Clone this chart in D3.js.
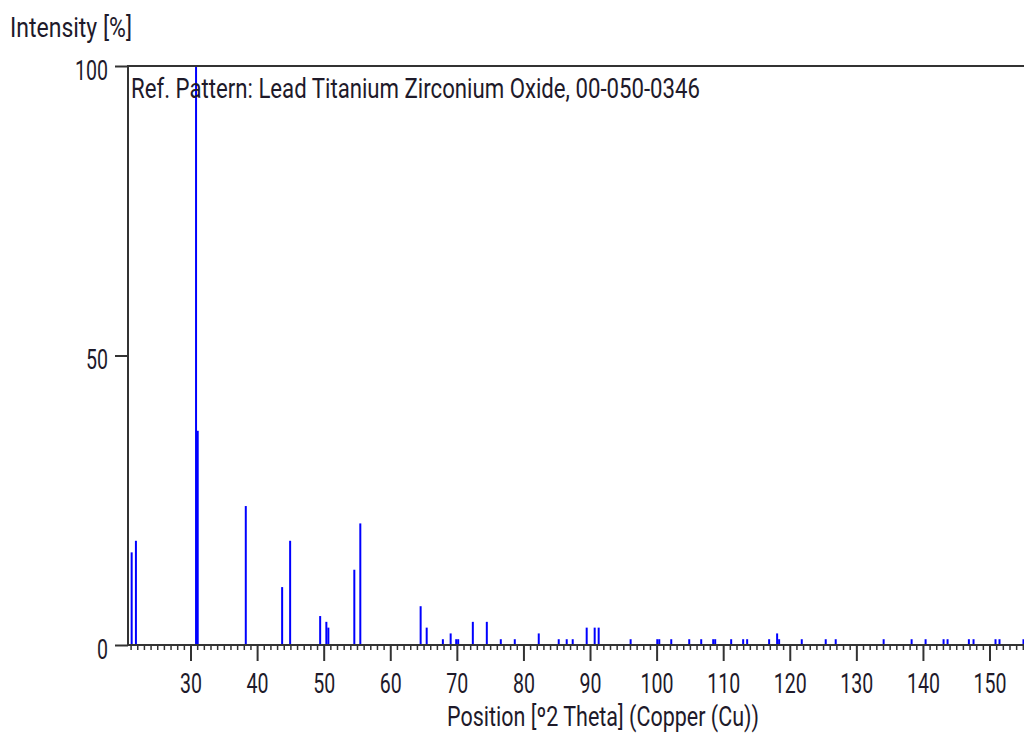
<!DOCTYPE html>
<html>
<head>
<meta charset="utf-8">
<script src="https://cdn.jsdelivr.net/npm/d3@7"></script>
<style>
  html, body { margin: 0; padding: 0; background: #fff; }
  svg { display: block; }
  text { font-family: Roboto, "Open Sans", sans-serif; fill: #1e1a2a; }
</style>
</head>
<body>
<svg id="chart" width="1024" height="733"></svg>
<script>
// Peak positions (°2θ) and relative intensities (%)
const positions = [21.16, 21.8, 30.83, 31.08, 38.3, 43.76, 44.96, 49.47, 50.4, 50.7, 54.6, 55.5,
  64.56, 65.47, 67.9, 69.07, 69.9, 70.2, 72.4, 74.5, 76.6, 78.7, 82.3, 85.3, 86.5, 87.4,
  89.5, 90.7, 91.3, 96.1, 100.1, 100.4, 102.2, 104.9, 106.7, 108.5, 108.8, 111.2, 113.0,
  113.6, 116.9, 118.1, 118.4, 121.8, 125.4, 126.9, 134.1, 138.3, 140.4, 143.1, 143.7,
  146.9, 147.6, 150.9, 151.5, 155.1];
const intensities = [16, 18, 100, 37, 24, 10, 18, 5, 4, 3, 13, 21,
  6.7, 3, 1, 2, 1, 1, 4, 4, 1, 1, 2, 1, 1, 1,
  3, 3, 3, 1, 1, 1, 1, 1, 1, 1, 1, 1, 1,
  1, 1, 2, 1, 1, 1, 1, 1, 1, 1, 1, 1,
  1, 1, 1, 1, 1];
const xTickValues = [30, 40, 50, 60, 70, 80, 90, 100, 110, 120, 130, 140, 150];
const yTickValues = [0, 50, 100];
const xDomain = [20.61, 156.08];
const yDomain = [0, 100];
const titleText = "Ref. Pattern: Lead Titanium Zirconium Oxide, 00-050-0346";
const yLabel = "Intensity [%]";
const xLabel = "Position [º2 Theta] (Copper (Cu))";

const svg = d3.select("#chart");
const mLeft = 128, mRight = 1030, mTop = 66, mBottom = 645;
const x = d3.scaleLinear().domain(xDomain).range([mLeft, mRight]);
const y = d3.scaleLinear().domain(yDomain).range([mBottom, mTop]);

const axisColor = "#333";
const fs = 27;
const digitW = 11;
const fontFam = "Roboto, 'Open Sans', sans-serif";

// bars
const peaks = positions.map((p, i) => ({ p, v: intensities[i] }));
svg.append("g").selectAll("line").data(peaks).join("line")
  .attr("x1", d => x(d.p)).attr("x2", d => x(d.p))
  .attr("y1", y(0)).attr("y2", d => y(d.v))
  .attr("stroke", "#0000ff").attr("stroke-width", 2);

// frame
svg.append("path")
  .attr("d", `M${mLeft},${mBottom} L${mLeft},${mTop} L${mRight + 10},${mTop}`)
  .attr("fill", "none").attr("stroke", axisColor).attr("stroke-width", 2);
svg.append("line")
  .attr("x1", mLeft - 1).attr("x2", mRight + 10)
  .attr("y1", mBottom).attr("y2", mBottom)
  .attr("stroke", axisColor).attr("stroke-width", 2);

// x minor ticks
const minor = d3.range(21, 157, 1).filter(v => v % 10 !== 0 && x(v) <= 1024);
const xAxisMinor = d3.axisBottom(x).tickValues(minor).tickSize(5).tickFormat("");
const gMinor = svg.append("g").attr("transform", `translate(0,${mBottom})`).call(xAxisMinor);
gMinor.select(".domain").remove();
gMinor.selectAll("line").attr("stroke", axisColor).attr("stroke-width", 1.5);

// x major ticks
const xAxis = d3.axisBottom(x).tickValues(xTickValues).tickSize(16).tickPadding(11).tickFormat(d3.format("d"));
const gx = svg.append("g").attr("transform", `translate(0,${mBottom})`).call(xAxis);
gx.select(".domain").remove();
gx.selectAll("line").attr("stroke", axisColor).attr("stroke-width", 2);
gx.selectAll("text")
  .attr("font-size", fs).attr("dy", null).attr("y", 48)
  .attr("textLength", d => String(d).length * digitW)
  .attr("lengthAdjust", "spacingAndGlyphs")
  .style("font-family", fontFam).attr("fill", "#1e1a2a");

// y ticks
const yAxis = d3.axisLeft(y).tickValues(yTickValues).tickSize(13).tickPadding(7).tickFormat(d3.format("d"));
const gy = svg.append("g").attr("transform", `translate(${mLeft},0)`).call(yAxis);
gy.select(".domain").remove();
gy.selectAll("line").attr("stroke", axisColor).attr("stroke-width", 2);
gy.selectAll("text")
  .attr("font-size", fs).attr("dy", null).attr("y", 13)
  .attr("textLength", d => String(d).length * digitW)
  .attr("lengthAdjust", "spacingAndGlyphs")
  .style("font-family", fontFam).attr("fill", "#1e1a2a");

// labels
svg.append("text").attr("x", 10).attr("y", 37).attr("font-size", fs)
  .attr("textLength", 122).attr("lengthAdjust", "spacingAndGlyphs").text(yLabel);
svg.append("text").attr("x", 447).attr("y", 726).attr("font-size", fs)
  .attr("textLength", 312).attr("lengthAdjust", "spacingAndGlyphs").text(xLabel);
svg.append("text").attr("x", 131).attr("y", 98).attr("font-size", fs)
  .attr("textLength", 569).attr("lengthAdjust", "spacingAndGlyphs").text(titleText);
</script>
</body>
</html>
